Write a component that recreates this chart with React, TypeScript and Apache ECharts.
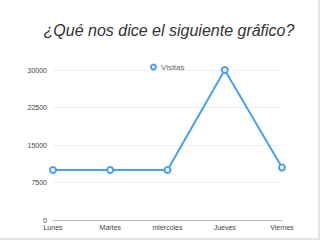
import React, { useEffect, useRef } from "react";
import * as echarts from "echarts";

const categories = ["Lunes", "Martes", "miercoles", "Jueves", "Viernes"];
const visitas = [10000, 10000, 10000, 30000, 10500];
const yTicks = [0, 7500, 15000, 22500, 30000];

export default function App() {
  const ref = useRef<HTMLDivElement>(null);
  useEffect(() => {
    const chart = echarts.init(ref.current!, null, { renderer: "svg" });
    chart.setOption({
      animation: false,
      backgroundColor: "#ffffff",
      title: {
        text: "¿Qué nos dice el siguiente gráfico?",
        left: 164,
        textAlign: "center",
        top: 17,
        textStyle: {
          fontFamily: "Liberation Sans, Arial, sans-serif",
          fontStyle: "italic",
          fontWeight: "normal",
          fontSize: 16,
          color: "#333333",
        },
      },
      legend: {
        data: ["Visitas"],
        top: 58,
        left: 145,
        icon: "emptyCircle",
        itemWidth: 5,
        itemHeight: 5,
        itemGap: 4,
        textStyle: { fontSize: 8, color: "#666666", fontFamily: "Liberation Sans, Arial, sans-serif", padding: [0, 0, 0, 0] },
      },
      grid: { left: 53, right: 36, top: 70, bottom: 18, containLabel: false },
      xAxis: {
        type: "category",
        data: categories,
        boundaryGap: false,
        axisLine: { lineStyle: { color: "#bbbbbb", width: 1 } },
        axisTick: { show: false },
        axisLabel: { fontSize: 7, color: "#444444", margin: 4, fontFamily: "Liberation Sans, Arial, sans-serif" },
      },
      yAxis: {
        type: "value",
        min: 0,
        max: 30000,
        interval: 7500,
        axisLine: { show: false },
        axisTick: { show: false },
        splitLine: { lineStyle: { color: "#eeeeee" } },
        axisLabel: {
          fontSize: 7,
          color: "#444444",
          margin: 6,
          fontFamily: "Liberation Sans, Arial, sans-serif",
          formatter: (v: number) => (yTicks.includes(v) ? String(v) : ""),
        },
      },
      series: [
        {
          name: "Visitas",
          type: "line",
          data: visitas,
          symbol: "emptyCircle",
          symbolSize: 6,
          color: "#4aa0f0",
          lineStyle: { width: 2, color: "#4aa0f0" },
          itemStyle: { color: "#4aa0f0", borderWidth: 2, borderColor: "#4aa0f0" },
        },
      ],
    });
    return () => chart.dispose();
  }, []);
  return (
    <div
      style={{
        position: "fixed",
        left: 0,
        top: 0,
        width: 320,
        height: 240,
        boxSizing: "border-box",
        borderRight: "2px solid #e4e4e4",
        borderBottom: "2px solid #e4e4e4",
        background: "#fff",
      }}
    >
      <div ref={ref} style={{ width: 318, height: 238 }} />
    </div>
  );
}
